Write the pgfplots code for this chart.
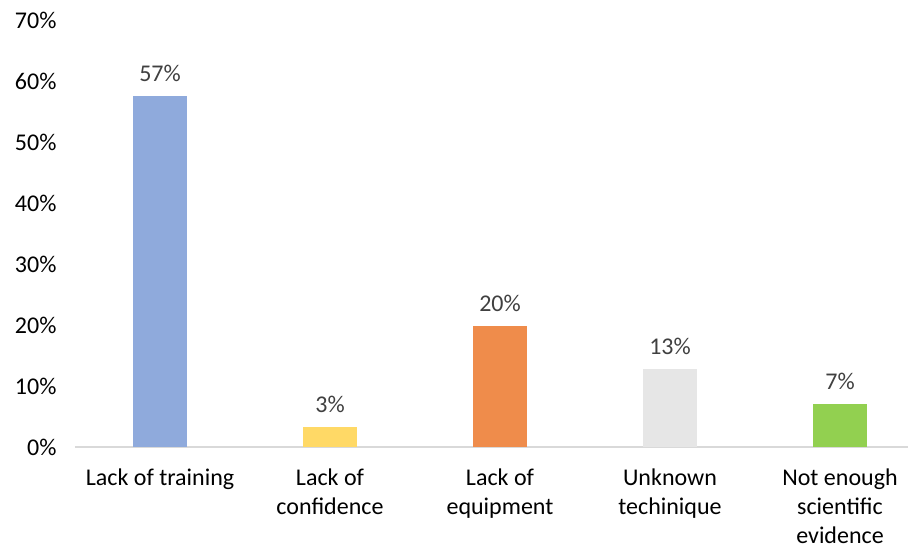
\documentclass[border=0pt]{standalone}
\usepackage{fontspec}
\setmainfont{Carlito}
\usepackage{pgfplots}
\pgfplotsset{compat=1.18}
\definecolor{cblue}{HTML}{8FAADC}
\definecolor{cyellow}{HTML}{FFD966}
\definecolor{corange}{HTML}{EF8C4B}
\definecolor{cgray}{HTML}{E6E6E6}
\definecolor{cgreen}{HTML}{92D050}
\definecolor{axisgray}{HTML}{D9D9D9}
\definecolor{labgray}{HTML}{404040}
\begin{document}
\begin{tikzpicture}[font=\fontsize{24}{29.3}\selectfont]
\begin{axis}[
  scale only axis, width=833pt, height=427pt,
  xmin=-0.5, xmax=4.4, ymin=0, ymax=70,
  axis x line=bottom, axis y line=left,
  y axis line style={draw=none},
  x axis line style={-, draw=axisgray, line width=1.5pt},
  major tick length=0pt,
  ytick={0,10,...,70},
  yticklabels={0\%,10\%,20\%,30\%,40\%,50\%,60\%,70\%},
  yticklabel style={anchor=east, xshift=-15pt, text=black},
  xtick={0,1,2,3,4},
  xticklabels={Lack of training,{Lack of\\confidence},{Lack of\\equipment},{Unknown\\techinique},{Not enough\\scientific\\evidence}},
  xticklabel style={align=center, anchor=north, yshift=-18pt, text=black},
  ybar, bar width=0.32, bar shift=0pt,
  point meta=explicit symbolic,
  nodes near coords={\pgfplotspointmeta\%},
  every node near coord/.append style={anchor=south, text=labgray, yshift=11pt},
  clip=false,
]
\addplot[fill=cblue, draw=none] coordinates {(0,57.5) [57]};
\addplot[fill=cyellow, draw=none] coordinates {(1,3.3) [3]};
\addplot[fill=corange, draw=none] coordinates {(2,19.8) [20]};
\addplot[fill=cgray, draw=none] coordinates {(3,12.8) [13]};
\addplot[fill=cgreen, draw=none] coordinates {(4,7.05) [7]};
\end{axis}
\path ([shift={(-75pt,-101pt)}]current axis.south west) rectangle ([shift={(835pt,447pt)}]current axis.south west);
\end{tikzpicture}
\end{document}
